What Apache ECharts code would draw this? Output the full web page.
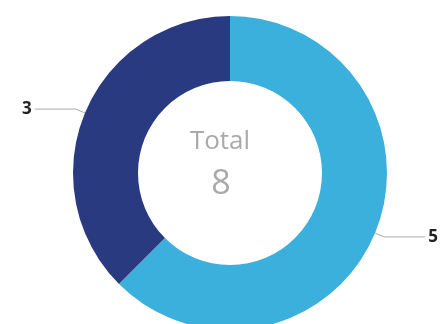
<!DOCTYPE html>
<html>
<head>
<meta charset="utf-8">
<script src="https://cdn.jsdelivr.net/npm/echarts@6/dist/echarts.min.js"></script>
<style>
  html, body { margin: 0; padding: 0; background: #fff; }
  #chart { width: 443px; height: 324px; }
</style>
</head>
<body>
<div id="chart"></div>
<script>
// Slice names and counts for the donut
const categories = ['A', 'B'];
const values = [5, 3];
const sliceColors = ['#3cb0dc', '#2a3a80'];

const total = values.reduce((a, b) => a + b, 0);

const chart = echarts.init(document.getElementById('chart'), null, { renderer: 'canvas' });

chart.setOption({
  animation: false,
  color: sliceColors,
  graphic: [
    {
      type: 'text',
      x: 220,
      y: 129,
      style: {
        text: 'Total',
        fill: '#aaaaaa',
        font: '26px "Open Sans", sans-serif',
        textAlign: 'center'
      }
    },
    {
      type: 'text',
      x: 221,
      y: 167,
      style: {
        text: String(total),
        fill: '#aaaaaa',
        font: '34px "Open Sans", sans-serif',
        textAlign: 'center'
      }
    }
  ],
  series: [
    {
      type: 'pie',
      center: [230, 173],
      radius: [92, 157],
      startAngle: 90,
      clockwise: true,
      data: categories.map((c, i) => ({ name: c, value: values[i] })),
      label: {
        show: true,
        formatter: '{c}',
        color: '#222',
        fontSize: 17,
        fontWeight: 'bold',
        fontFamily: '"Open Sans", sans-serif',
        distanceToLabelLine: 3,
        overflow: 'none'
      },
      labelLine: {
        show: true,
        length: 10,
        length2: 41,
        lineStyle: { color: '#aaa', width: 1 }
      },
      labelLayout: { hideOverlap: false },
      emphasis: { disabled: true }
    }
  ]
});
</script>
</body>
</html>
